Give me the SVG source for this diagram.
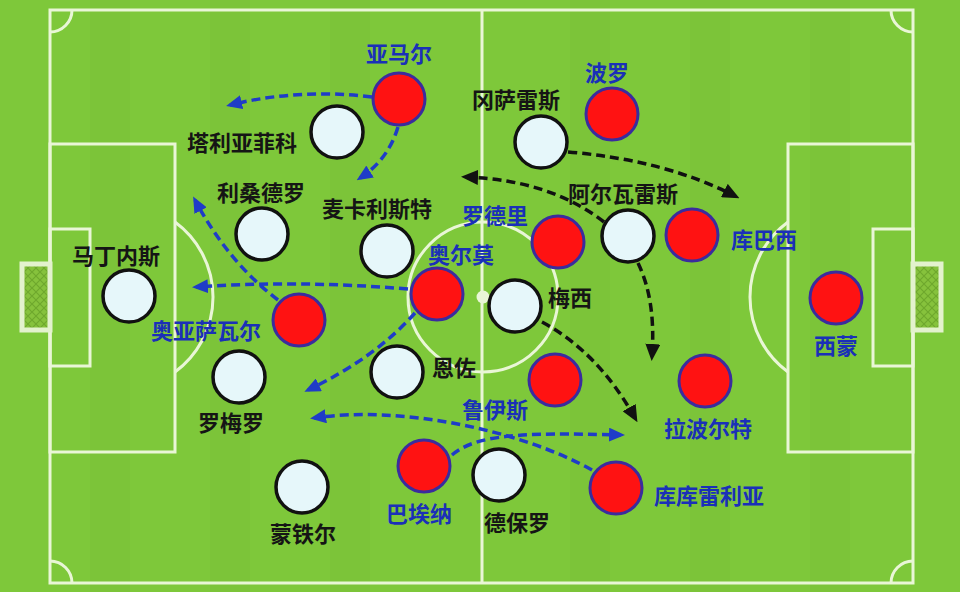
<svg xmlns="http://www.w3.org/2000/svg" width="960" height="592" viewBox="0 0 960 592">
<style>
.line{fill:none;stroke:#e9f6d6;stroke-width:3}
.w{fill:#e6f7fa;stroke:#111;stroke-width:3.5}
.r{fill:#ff1212;stroke:#3a2c9e;stroke-width:3}
.lb{font-family:"Noto Sans CJK SC","Noto Sans",sans-serif;font-weight:700;font-size:22px;text-anchor:middle;dominant-baseline:central}
.k{fill:#151515}
.b{fill:#1a30b8}
.cb{fill:none;stroke:#1f3cc8;stroke-width:3.5;stroke-dasharray:9 5}
.ck{fill:none;stroke:#111;stroke-width:3.5;stroke-dasharray:9 5}
</style>
<defs>
<pattern id="net" width="8" height="8" patternUnits="userSpaceOnUse">
<rect width="8" height="8" fill="#86c23c"/>
<path d="M0,0 L8,8 M8,0 L0,8" stroke="#6ea82c" stroke-width="1.2"/>
</pattern>
<marker id="ab" markerUnits="userSpaceOnUse" viewBox="0 0 16 14" refX="12" refY="7" markerWidth="16" markerHeight="14" orient="auto">
<path d="M0,0 L16,7 L0,14 z" fill="#1f3cc8"/>
</marker>
<marker id="ak" markerUnits="userSpaceOnUse" viewBox="0 0 17 15" refX="12" refY="7.5" markerWidth="17" markerHeight="15" orient="auto">
<path d="M0,0 L17,7.5 L0,15 z" fill="#111"/>
</marker>
</defs>
<g id="field">
<rect width="960" height="592" fill="#7ec83a"/>
<rect x="90" y="0" width="40" height="592" fill="#000" opacity="0.015"/>
<rect x="210" y="0" width="40" height="592" fill="#000" opacity="0.015"/>
<rect x="330" y="0" width="40" height="592" fill="#000" opacity="0.015"/>
<rect x="570" y="0" width="40" height="592" fill="#000" opacity="0.015"/>
<rect x="690" y="0" width="40" height="592" fill="#000" opacity="0.015"/>
<rect x="810" y="0" width="40" height="592" fill="#000" opacity="0.015"/>
<rect class="line" x="50" y="10" width="863" height="573"/>
<line class="line" x1="482" y1="10" x2="482" y2="583"/>
<circle class="line" cx="483" cy="297" r="75"/>
<circle cx="483" cy="297" r="6.5" fill="#e9f6d6"/>
<rect class="line" x="50" y="144" width="125" height="308"/>
<rect class="line" x="50" y="229" width="40" height="137"/>
<rect class="line" x="788" y="144" width="125" height="308"/>
<rect class="line" x="873" y="229" width="40" height="137"/>
<path class="line" d="M175,222 A93,93 0 0 1 175,372"/>
<path class="line" d="M788,222 A93,93 0 0 0 788,372"/>
<path class="line" d="M50,32 A22,22 0 0 0 72,10"/>
<path class="line" d="M891,10 A22,22 0 0 0 913,32"/>
<path class="line" d="M50,561 A22,22 0 0 1 72,583"/>
<path class="line" d="M891,583 A22,22 0 0 1 913,561"/>
<rect x="22" y="264" width="28" height="66" fill="url(#net)" stroke="#e3f2cd" stroke-width="5"/>
<rect x="913" y="264" width="28" height="66" fill="url(#net)" stroke="#e3f2cd" stroke-width="5"/>
</g>
<g id="connectors">
<path class="cb" d="M372,97 Q300,88 230,105" marker-end="url(#ab)"/>
<path class="cb" d="M398,127 Q388,160 360,178" marker-end="url(#ab)"/>
<path class="cb" d="M278,300 Q228,262 195,200" marker-end="url(#ab)"/>
<path class="cb" d="M408,289 Q300,280 196,287" marker-end="url(#ab)"/>
<path class="cb" d="M415,313 Q375,358 308,390" marker-end="url(#ab)"/>
<path class="cb" d="M592,470 C520,430 400,405 314,418" marker-end="url(#ab)"/>
<path class="cb" d="M452,455 C475,435 520,432 621,435" marker-end="url(#ab)"/>
<path class="ck" d="M568,152 Q665,160 735,196" marker-end="url(#ak)"/>
<path class="ck" d="M604,222 Q550,180 466,177" marker-end="url(#ak)"/>
<path class="ck" d="M638,263 Q656,300 652,356" marker-end="url(#ak)"/>
<path class="ck" d="M542,322 Q598,352 635,418" marker-end="url(#ak)"/>
</g>
<g id="p-tagliafico"><circle class="w" cx="337" cy="132" r="26"/><text class="lb k" x="242" y="141">塔利亚菲科</text></g>
<g id="p-lisandro"><circle class="w" cx="262" cy="234" r="26"/><text class="lb k" x="261" y="191">利桑德罗</text></g>
<g id="p-macallister"><circle class="w" cx="387" cy="251" r="26"/><text class="lb k" x="377" y="207">麦卡利斯特</text></g>
<g id="p-martinez"><circle class="w" cx="129" cy="296" r="26"/><text class="lb k" x="116" y="254">马丁内斯</text></g>
<g id="p-romero"><circle class="w" cx="239" cy="377" r="26"/><text class="lb k" x="231" y="421">罗梅罗</text></g>
<g id="p-montiel"><circle class="w" cx="302" cy="487" r="26"/><text class="lb k" x="303" y="532">蒙铁尔</text></g>
<g id="p-enzo"><circle class="w" cx="397" cy="372" r="26"/><text class="lb k" x="454" y="366">恩佐</text></g>
<g id="p-gonzalez"><circle class="w" cx="541" cy="142" r="26"/><text class="lb k" x="516" y="98">冈萨雷斯</text></g>
<g id="p-alvarez"><circle class="w" cx="628" cy="236" r="26"/><text class="lb k" x="623" y="192">阿尔瓦雷斯</text></g>
<g id="p-messi"><circle class="w" cx="515" cy="306" r="26"/><text class="lb k" x="570" y="296">梅西</text></g>
<g id="p-depaul"><circle class="w" cx="499" cy="475" r="26"/><text class="lb k" x="517" y="521">德保罗</text></g>
<g id="p-yamal"><circle class="r" cx="399" cy="99" r="26"/><text class="lb b" x="399" y="52">亚马尔</text></g>
<g id="p-porro"><circle class="r" cx="612" cy="114" r="26"/><text class="lb b" x="607" y="71">波罗</text></g>
<g id="p-rodri"><circle class="r" cx="558" cy="242" r="26"/><text class="lb b" x="495" y="214">罗德里</text></g>
<g id="p-cubarsi"><circle class="r" cx="692" cy="235" r="26"/><text class="lb b" x="764" y="238">库巴西</text></g>
<g id="p-olmo"><circle class="r" cx="437" cy="294" r="26"/><text class="lb b" x="461" y="253">奥尔莫</text></g>
<g id="p-oyarzabal"><circle class="r" cx="299" cy="320" r="26"/><text class="lb b" x="206" y="329">奥亚萨瓦尔</text></g>
<g id="p-simon"><circle class="r" cx="836" cy="298" r="26"/><text class="lb b" x="836" y="344">西蒙</text></g>
<g id="p-ruiz"><circle class="r" cx="555" cy="380" r="26"/><text class="lb b" x="495" y="408">鲁伊斯</text></g>
<g id="p-laporte"><circle class="r" cx="705" cy="381" r="26"/><text class="lb b" x="708" y="427">拉波尔特</text></g>
<g id="p-baena"><circle class="r" cx="424" cy="466" r="26"/><text class="lb b" x="419" y="512">巴埃纳</text></g>
<g id="p-cucurella"><circle class="r" cx="616" cy="488" r="26"/><text class="lb b" x="709" y="494">库库雷利亚</text></g>
</svg>
